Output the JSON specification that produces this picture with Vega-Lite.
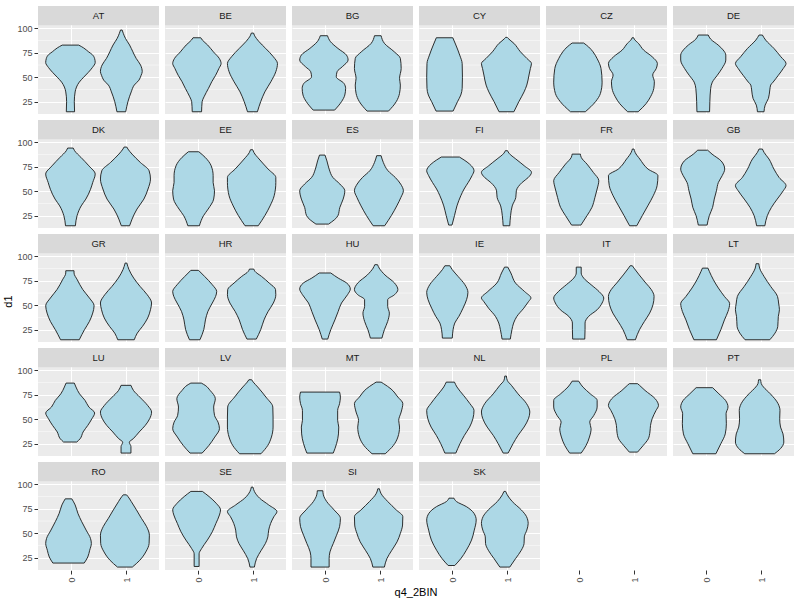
{
"$schema":"https://vega.github.io/schema/vega-lite/v6.json",
"padding":{"left":2,"right":5,"top":5,"bottom":3},
"bounds":"flush",
"title":{"text":"d1","orient":"left","anchor":"middle","fontSize":11,"fontWeight":"normal","color":"#000000","font":"Liberation Sans","offset":3},
"data":{"values":[
{"c":"AT","g":0,"y":14.7,"w":0.15},{"c":"AT","g":0,"y":25,"w":0.14},{"c":"AT","g":0,"y":35,"w":0.17},{"c":"AT","g":0,"y":40,"w":0.22},{"c":"AT","g":0,"y":45,"w":0.32},{"c":"AT","g":0,"y":50,"w":0.48},{"c":"AT","g":0,"y":55,"w":0.65},{"c":"AT","g":0,"y":60,"w":0.8},{"c":"AT","g":0,"y":65,"w":0.9},{"c":"AT","g":0,"y":69,"w":0.88},{"c":"AT","g":0,"y":73,"w":0.8},{"c":"AT","g":0,"y":76,"w":0.66},{"c":"AT","g":0,"y":80,"w":0.48},{"c":"AT","g":0,"y":82.9,"w":0.3},
{"c":"AT","g":1,"y":14.7,"w":0.16},{"c":"AT","g":1,"y":25,"w":0.24},{"c":"AT","g":1,"y":35,"w":0.36},{"c":"AT","g":1,"y":42,"w":0.47},{"c":"AT","g":1,"y":47,"w":0.64},{"c":"AT","g":1,"y":52,"w":0.72},{"c":"AT","g":1,"y":55.7,"w":0.76},{"c":"AT","g":1,"y":62.5,"w":0.7},{"c":"AT","g":1,"y":69.3,"w":0.54},{"c":"AT","g":1,"y":76,"w":0.42},{"c":"AT","g":1,"y":83,"w":0.3},{"c":"AT","g":1,"y":89.8,"w":0.15},{"c":"AT","g":1,"y":95,"w":0.07},{"c":"AT","g":1,"y":98.3,"w":0.03},
{"c":"BE","g":0,"y":14.7,"w":0.17},{"c":"BE","g":0,"y":25,"w":0.19},{"c":"BE","g":0,"y":30,"w":0.26},{"c":"BE","g":0,"y":38.6,"w":0.42},{"c":"BE","g":0,"y":45.4,"w":0.54},{"c":"BE","g":0,"y":52,"w":0.68},{"c":"BE","g":0,"y":59,"w":0.8},{"c":"BE","g":0,"y":64,"w":0.88},{"c":"BE","g":0,"y":69,"w":0.82},{"c":"BE","g":0,"y":76,"w":0.6},{"c":"BE","g":0,"y":83,"w":0.39},{"c":"BE","g":0,"y":88,"w":0.2},{"c":"BE","g":0,"y":90.4,"w":0.14},
{"c":"BE","g":1,"y":14.7,"w":0.18},{"c":"BE","g":1,"y":25,"w":0.3},{"c":"BE","g":1,"y":35,"w":0.45},{"c":"BE","g":1,"y":45.4,"w":0.67},{"c":"BE","g":1,"y":55.7,"w":0.85},{"c":"BE","g":1,"y":64,"w":0.91},{"c":"BE","g":1,"y":71,"w":0.76},{"c":"BE","g":1,"y":79.5,"w":0.48},{"c":"BE","g":1,"y":86.4,"w":0.24},{"c":"BE","g":1,"y":93,"w":0.07},{"c":"BE","g":1,"y":95.2,"w":0.04},
{"c":"BG","g":0,"y":16.4,"w":0.39},{"c":"BG","g":0,"y":25,"w":0.64},{"c":"BG","g":0,"y":31.8,"w":0.76},{"c":"BG","g":0,"y":38.6,"w":0.79},{"c":"BG","g":0,"y":43.7,"w":0.73},{"c":"BG","g":0,"y":50.5,"w":0.45},{"c":"BG","g":0,"y":55.7,"w":0.48},{"c":"BG","g":0,"y":60.8,"w":0.67},{"c":"BG","g":0,"y":67.6,"w":0.88},{"c":"BG","g":0,"y":72.7,"w":0.82},{"c":"BG","g":0,"y":79.5,"w":0.51},{"c":"BG","g":0,"y":86.4,"w":0.24},{"c":"BG","g":0,"y":92.5,"w":0.13},
{"c":"BG","g":1,"y":15.4,"w":0.39},{"c":"BG","g":1,"y":25,"w":0.67},{"c":"BG","g":1,"y":33.5,"w":0.79},{"c":"BG","g":1,"y":42,"w":0.82},{"c":"BG","g":1,"y":48.8,"w":0.79},{"c":"BG","g":1,"y":59,"w":0.85},{"c":"BG","g":1,"y":69.3,"w":0.82},{"c":"BG","g":1,"y":76,"w":0.6},{"c":"BG","g":1,"y":84.7,"w":0.24},{"c":"BG","g":1,"y":92.5,"w":0.12},
{"c":"CY","g":0,"y":15.4,"w":0.31},{"c":"CY","g":0,"y":25,"w":0.47},{"c":"CY","g":0,"y":31.8,"w":0.59},{"c":"CY","g":0,"y":38.6,"w":0.64},{"c":"CY","g":0,"y":50,"w":0.65},{"c":"CY","g":0,"y":64,"w":0.64},{"c":"CY","g":0,"y":72.7,"w":0.55},{"c":"CY","g":0,"y":83,"w":0.41},{"c":"CY","g":0,"y":90.4,"w":0.3},
{"c":"CY","g":1,"y":14.7,"w":0.27},{"c":"CY","g":1,"y":25,"w":0.45},{"c":"CY","g":1,"y":35,"w":0.64},{"c":"CY","g":1,"y":42,"w":0.74},{"c":"CY","g":1,"y":52.3,"w":0.82},{"c":"CY","g":1,"y":59,"w":0.87},{"c":"CY","g":1,"y":64,"w":0.91},{"c":"CY","g":1,"y":69.3,"w":0.74},{"c":"CY","g":1,"y":76,"w":0.51},{"c":"CY","g":1,"y":84.7,"w":0.27},{"c":"CY","g":1,"y":89.8,"w":0.06},{"c":"CY","g":1,"y":90.8,"w":0.03},
{"c":"CZ","g":0,"y":14.7,"w":0.27},{"c":"CZ","g":0,"y":25,"w":0.64},{"c":"CZ","g":0,"y":33.5,"w":0.82},{"c":"CZ","g":0,"y":45,"w":0.88},{"c":"CZ","g":0,"y":59,"w":0.84},{"c":"CZ","g":0,"y":69,"w":0.7},{"c":"CZ","g":0,"y":76,"w":0.55},{"c":"CZ","g":0,"y":81,"w":0.39},{"c":"CZ","g":0,"y":85,"w":0.21},
{"c":"CZ","g":1,"y":14.7,"w":0.19},{"c":"CZ","g":1,"y":23,"w":0.48},{"c":"CZ","g":1,"y":30,"w":0.64},{"c":"CZ","g":1,"y":38.6,"w":0.76},{"c":"CZ","g":1,"y":45.4,"w":0.78},{"c":"CZ","g":1,"y":52.3,"w":0.72},{"c":"CZ","g":1,"y":59,"w":0.85},{"c":"CZ","g":1,"y":64,"w":0.89},{"c":"CZ","g":1,"y":71,"w":0.7},{"c":"CZ","g":1,"y":77.8,"w":0.39},{"c":"CZ","g":1,"y":84.7,"w":0.2},{"c":"CZ","g":1,"y":89,"w":0.05},{"c":"CZ","g":1,"y":90.4,"w":0.03},
{"c":"DE","g":0,"y":14.7,"w":0.23},{"c":"DE","g":0,"y":25,"w":0.24},{"c":"DE","g":0,"y":38.6,"w":0.27},{"c":"DE","g":0,"y":45,"w":0.33},{"c":"DE","g":0,"y":52,"w":0.51},{"c":"DE","g":0,"y":59,"w":0.68},{"c":"DE","g":0,"y":67.6,"w":0.82},{"c":"DE","g":0,"y":72.7,"w":0.82},{"c":"DE","g":0,"y":78,"w":0.72},{"c":"DE","g":0,"y":83,"w":0.54},{"c":"DE","g":0,"y":89,"w":0.27},{"c":"DE","g":0,"y":93.2,"w":0.18},
{"c":"DE","g":1,"y":14.7,"w":0.12},{"c":"DE","g":1,"y":21.5,"w":0.16},{"c":"DE","g":1,"y":28.4,"w":0.28},{"c":"DE","g":1,"y":37,"w":0.33},{"c":"DE","g":1,"y":42,"w":0.36},{"c":"DE","g":1,"y":45,"w":0.45},{"c":"DE","g":1,"y":52,"w":0.64},{"c":"DE","g":1,"y":59,"w":0.82},{"c":"DE","g":1,"y":64,"w":0.92},{"c":"DE","g":1,"y":71,"w":0.73},{"c":"DE","g":1,"y":79.5,"w":0.48},{"c":"DE","g":1,"y":88,"w":0.18},{"c":"DE","g":1,"y":93.2,"w":0.06},
{"c":"DK","g":0,"y":14.7,"w":0.18},{"c":"DK","g":0,"y":25,"w":0.24},{"c":"DK","g":0,"y":35,"w":0.39},{"c":"DK","g":0,"y":42,"w":0.56},{"c":"DK","g":0,"y":52,"w":0.73},{"c":"DK","g":0,"y":59,"w":0.81},{"c":"DK","g":0,"y":67.6,"w":0.9},{"c":"DK","g":0,"y":76,"w":0.67},{"c":"DK","g":0,"y":84.7,"w":0.38},{"c":"DK","g":0,"y":91.5,"w":0.15},{"c":"DK","g":0,"y":94.2,"w":0.1},
{"c":"DK","g":1,"y":14.7,"w":0.15},{"c":"DK","g":1,"y":21.5,"w":0.24},{"c":"DK","g":1,"y":31.8,"w":0.42},{"c":"DK","g":1,"y":42,"w":0.67},{"c":"DK","g":1,"y":52.3,"w":0.82},{"c":"DK","g":1,"y":62.5,"w":0.91},{"c":"DK","g":1,"y":71,"w":0.86},{"c":"DK","g":1,"y":79.5,"w":0.54},{"c":"DK","g":1,"y":88,"w":0.24},{"c":"DK","g":1,"y":93.2,"w":0.09},{"c":"DK","g":1,"y":95.2,"w":0.05},
{"c":"EE","g":0,"y":14.7,"w":0.21},{"c":"EE","g":0,"y":25,"w":0.36},{"c":"EE","g":0,"y":31.8,"w":0.53},{"c":"EE","g":0,"y":42,"w":0.73},{"c":"EE","g":0,"y":50.5,"w":0.76},{"c":"EE","g":0,"y":59,"w":0.71},{"c":"EE","g":0,"y":66,"w":0.71},{"c":"EE","g":0,"y":76,"w":0.64},{"c":"EE","g":0,"y":84.7,"w":0.42},{"c":"EE","g":0,"y":90.4,"w":0.19},
{"c":"EE","g":1,"y":14.7,"w":0.24},{"c":"EE","g":1,"y":25,"w":0.48},{"c":"EE","g":1,"y":35,"w":0.67},{"c":"EE","g":1,"y":45.4,"w":0.82},{"c":"EE","g":1,"y":59,"w":0.88},{"c":"EE","g":1,"y":64,"w":0.88},{"c":"EE","g":1,"y":72.7,"w":0.6},{"c":"EE","g":1,"y":83,"w":0.27},{"c":"EE","g":1,"y":89.8,"w":0.08},{"c":"EE","g":1,"y":92.5,"w":0.04},
{"c":"ES","g":0,"y":16.4,"w":0.23},{"c":"ES","g":0,"y":25,"w":0.57},{"c":"ES","g":0,"y":33.5,"w":0.64},{"c":"ES","g":0,"y":42,"w":0.76},{"c":"ES","g":0,"y":50.5,"w":0.82},{"c":"ES","g":0,"y":57.4,"w":0.64},{"c":"ES","g":0,"y":64,"w":0.39},{"c":"ES","g":0,"y":72.7,"w":0.25},{"c":"ES","g":0,"y":81,"w":0.17},{"c":"ES","g":0,"y":87,"w":0.1},
{"c":"ES","g":1,"y":14.7,"w":0.21},{"c":"ES","g":1,"y":25,"w":0.45},{"c":"ES","g":1,"y":35,"w":0.65},{"c":"ES","g":1,"y":43.7,"w":0.8},{"c":"ES","g":1,"y":50.5,"w":0.89},{"c":"ES","g":1,"y":57.4,"w":0.79},{"c":"ES","g":1,"y":64,"w":0.6},{"c":"ES","g":1,"y":71,"w":0.33},{"c":"ES","g":1,"y":79.5,"w":0.16},{"c":"ES","g":1,"y":86.4,"w":0.08},
{"c":"FI","g":0,"y":15.4,"w":0.06},{"c":"FI","g":0,"y":25,"w":0.15},{"c":"FI","g":0,"y":35,"w":0.24},{"c":"FI","g":0,"y":45.4,"w":0.38},{"c":"FI","g":0,"y":52.3,"w":0.5},{"c":"FI","g":0,"y":59,"w":0.65},{"c":"FI","g":0,"y":66,"w":0.79},{"c":"FI","g":0,"y":71,"w":0.86},{"c":"FI","g":0,"y":77.8,"w":0.7},{"c":"FI","g":0,"y":82,"w":0.5},{"c":"FI","g":0,"y":85,"w":0.33},
{"c":"FI","g":1,"y":14.7,"w":0.12},{"c":"FI","g":1,"y":25,"w":0.15},{"c":"FI","g":1,"y":35,"w":0.21},{"c":"FI","g":1,"y":43.7,"w":0.34},{"c":"FI","g":1,"y":50.5,"w":0.36},{"c":"FI","g":1,"y":59,"w":0.57},{"c":"FI","g":1,"y":64,"w":0.79},{"c":"FI","g":1,"y":69.3,"w":0.91},{"c":"FI","g":1,"y":76,"w":0.65},{"c":"FI","g":1,"y":83,"w":0.34},{"c":"FI","g":1,"y":89,"w":0.09},{"c":"FI","g":1,"y":91.5,"w":0.04},
{"c":"FR","g":0,"y":15.4,"w":0.17},{"c":"FR","g":0,"y":25,"w":0.39},{"c":"FR","g":0,"y":33.5,"w":0.57},{"c":"FR","g":0,"y":43.7,"w":0.68},{"c":"FR","g":0,"y":52.3,"w":0.76},{"c":"FR","g":0,"y":60.8,"w":0.82},{"c":"FR","g":0,"y":69.3,"w":0.62},{"c":"FR","g":0,"y":77.8,"w":0.39},{"c":"FR","g":0,"y":84.7,"w":0.18},{"c":"FR","g":0,"y":88,"w":0.15},
{"c":"FR","g":1,"y":14.7,"w":0.13},{"c":"FR","g":1,"y":25,"w":0.33},{"c":"FR","g":1,"y":35,"w":0.53},{"c":"FR","g":1,"y":45.4,"w":0.73},{"c":"FR","g":1,"y":55.7,"w":0.87},{"c":"FR","g":1,"y":66,"w":0.9},{"c":"FR","g":1,"y":72.7,"w":0.54},{"c":"FR","g":1,"y":83,"w":0.24},{"c":"FR","g":1,"y":89.8,"w":0.07},{"c":"FR","g":1,"y":93.2,"w":0.03},
{"c":"GB","g":0,"y":15.4,"w":0.16},{"c":"GB","g":0,"y":25,"w":0.24},{"c":"GB","g":0,"y":33.5,"w":0.36},{"c":"GB","g":0,"y":42,"w":0.42},{"c":"GB","g":0,"y":50.5,"w":0.5},{"c":"GB","g":0,"y":59,"w":0.57},{"c":"GB","g":0,"y":66,"w":0.71},{"c":"GB","g":0,"y":72.7,"w":0.8},{"c":"GB","g":0,"y":81,"w":0.67},{"c":"GB","g":0,"y":88,"w":0.34},{"c":"GB","g":0,"y":92,"w":0.18},
{"c":"GB","g":1,"y":14.7,"w":0.15},{"c":"GB","g":1,"y":25,"w":0.24},{"c":"GB","g":1,"y":33.5,"w":0.39},{"c":"GB","g":1,"y":42,"w":0.6},{"c":"GB","g":1,"y":50.5,"w":0.82},{"c":"GB","g":1,"y":55.7,"w":0.92},{"c":"GB","g":1,"y":64,"w":0.67},{"c":"GB","g":1,"y":72.7,"w":0.48},{"c":"GB","g":1,"y":83,"w":0.3},{"c":"GB","g":1,"y":89.8,"w":0.12},{"c":"GB","g":1,"y":93.2,"w":0.06},
{"c":"GR","g":0,"y":14.7,"w":0.34},{"c":"GR","g":0,"y":25,"w":0.53},{"c":"GR","g":0,"y":33.5,"w":0.71},{"c":"GR","g":0,"y":42,"w":0.83},{"c":"GR","g":0,"y":49.5,"w":0.88},{"c":"GR","g":0,"y":57.4,"w":0.71},{"c":"GR","g":0,"y":66,"w":0.47},{"c":"GR","g":0,"y":76,"w":0.27},{"c":"GR","g":0,"y":83,"w":0.15},{"c":"GR","g":0,"y":85.3,"w":0.15},
{"c":"GR","g":1,"y":14.7,"w":0.3},{"c":"GR","g":1,"y":21.5,"w":0.41},{"c":"GR","g":1,"y":28.4,"w":0.6},{"c":"GR","g":1,"y":37,"w":0.79},{"c":"GR","g":1,"y":45.4,"w":0.89},{"c":"GR","g":1,"y":52.3,"w":0.93},{"c":"GR","g":1,"y":60.8,"w":0.77},{"c":"GR","g":1,"y":69.3,"w":0.51},{"c":"GR","g":1,"y":77.8,"w":0.28},{"c":"GR","g":1,"y":86.4,"w":0.11},{"c":"GR","g":1,"y":93.2,"w":0.03},
{"c":"HR","g":0,"y":14.7,"w":0.19},{"c":"HR","g":0,"y":25,"w":0.33},{"c":"HR","g":0,"y":35,"w":0.39},{"c":"HR","g":0,"y":43.7,"w":0.48},{"c":"HR","g":0,"y":52.3,"w":0.64},{"c":"HR","g":0,"y":59,"w":0.76},{"c":"HR","g":0,"y":64,"w":0.8},{"c":"HR","g":0,"y":71,"w":0.64},{"c":"HR","g":0,"y":79.5,"w":0.36},{"c":"HR","g":0,"y":85.7,"w":0.14},
{"c":"HR","g":1,"y":15.4,"w":0.17},{"c":"HR","g":1,"y":25,"w":0.33},{"c":"HR","g":1,"y":35,"w":0.45},{"c":"HR","g":1,"y":43.7,"w":0.6},{"c":"HR","g":1,"y":52.3,"w":0.79},{"c":"HR","g":1,"y":60.8,"w":0.88},{"c":"HR","g":1,"y":66,"w":0.87},{"c":"HR","g":1,"y":72.7,"w":0.64},{"c":"HR","g":1,"y":79.5,"w":0.36},{"c":"HR","g":1,"y":84.7,"w":0.12},{"c":"HR","g":1,"y":87,"w":0.08},
{"c":"HU","g":0,"y":15.4,"w":0.1},{"c":"HU","g":0,"y":25,"w":0.21},{"c":"HU","g":0,"y":35,"w":0.36},{"c":"HU","g":0,"y":43.7,"w":0.48},{"c":"HU","g":0,"y":52.3,"w":0.6},{"c":"HU","g":0,"y":60.8,"w":0.82},{"c":"HU","g":0,"y":66.6,"w":0.92},{"c":"HU","g":0,"y":72.7,"w":0.79},{"c":"HU","g":0,"y":77.8,"w":0.48},{"c":"HU","g":0,"y":83,"w":0.21},
{"c":"HU","g":1,"y":16.4,"w":0.21},{"c":"HU","g":1,"y":25,"w":0.3},{"c":"HU","g":1,"y":33.5,"w":0.42},{"c":"HU","g":1,"y":42,"w":0.48},{"c":"HU","g":1,"y":48.8,"w":0.42},{"c":"HU","g":1,"y":55.7,"w":0.42},{"c":"HU","g":1,"y":60.8,"w":0.67},{"c":"HU","g":1,"y":66,"w":0.79},{"c":"HU","g":1,"y":72.7,"w":0.67},{"c":"HU","g":1,"y":81,"w":0.32},{"c":"HU","g":1,"y":88,"w":0.11},{"c":"HU","g":1,"y":91.5,"w":0.05},
{"c":"IE","g":0,"y":16.4,"w":0.18},{"c":"IE","g":0,"y":25,"w":0.21},{"c":"IE","g":0,"y":31.8,"w":0.27},{"c":"IE","g":0,"y":38.6,"w":0.42},{"c":"IE","g":0,"y":47,"w":0.57},{"c":"IE","g":0,"y":55.7,"w":0.7},{"c":"IE","g":0,"y":63,"w":0.75},{"c":"IE","g":0,"y":71,"w":0.64},{"c":"IE","g":0,"y":79.5,"w":0.39},{"c":"IE","g":0,"y":86.4,"w":0.18},{"c":"IE","g":0,"y":90.4,"w":0.09},
{"c":"IE","g":1,"y":15.4,"w":0.15},{"c":"IE","g":1,"y":25,"w":0.21},{"c":"IE","g":1,"y":31.8,"w":0.27},{"c":"IE","g":1,"y":38.6,"w":0.39},{"c":"IE","g":1,"y":47,"w":0.64},{"c":"IE","g":1,"y":54,"w":0.82},{"c":"IE","g":1,"y":57.4,"w":0.9},{"c":"IE","g":1,"y":64,"w":0.67},{"c":"IE","g":1,"y":72.7,"w":0.34},{"c":"IE","g":1,"y":83,"w":0.17},{"c":"IE","g":1,"y":89,"w":0.06},
{"c":"IT","g":0,"y":15.4,"w":0.22},{"c":"IT","g":0,"y":25,"w":0.23},{"c":"IT","g":0,"y":31.8,"w":0.23},{"c":"IT","g":0,"y":38.6,"w":0.36},{"c":"IT","g":0,"y":45.4,"w":0.67},{"c":"IT","g":0,"y":52.3,"w":0.85},{"c":"IT","g":0,"y":57.4,"w":0.91},{"c":"IT","g":0,"y":64,"w":0.74},{"c":"IT","g":0,"y":71,"w":0.45},{"c":"IT","g":0,"y":77.8,"w":0.18},{"c":"IT","g":0,"y":83,"w":0.09},{"c":"IT","g":0,"y":89,"w":0.09},
{"c":"IT","g":1,"y":14.7,"w":0.15},{"c":"IT","g":1,"y":25,"w":0.3},{"c":"IT","g":1,"y":33.5,"w":0.48},{"c":"IT","g":1,"y":42,"w":0.67},{"c":"IT","g":1,"y":50.5,"w":0.79},{"c":"IT","g":1,"y":59,"w":0.83},{"c":"IT","g":1,"y":66,"w":0.73},{"c":"IT","g":1,"y":72.7,"w":0.53},{"c":"IT","g":1,"y":81,"w":0.29},{"c":"IT","g":1,"y":88,"w":0.1},{"c":"IT","g":1,"y":90.4,"w":0.04},
{"c":"LT","g":0,"y":14.7,"w":0.41},{"c":"LT","g":0,"y":25,"w":0.57},{"c":"LT","g":0,"y":35,"w":0.7},{"c":"LT","g":0,"y":43.7,"w":0.83},{"c":"LT","g":0,"y":51.6,"w":0.89},{"c":"LT","g":0,"y":59,"w":0.7},{"c":"LT","g":0,"y":67.6,"w":0.48},{"c":"LT","g":0,"y":76,"w":0.3},{"c":"LT","g":0,"y":84.7,"w":0.15},{"c":"LT","g":0,"y":88,"w":0.1},
{"c":"LT","g":1,"y":14.7,"w":0.45},{"c":"LT","g":1,"y":21.5,"w":0.64},{"c":"LT","g":1,"y":28.4,"w":0.74},{"c":"LT","g":1,"y":38.6,"w":0.76},{"c":"LT","g":1,"y":45.4,"w":0.8},{"c":"LT","g":1,"y":52.3,"w":0.77},{"c":"LT","g":1,"y":59,"w":0.73},{"c":"LT","g":1,"y":69.3,"w":0.48},{"c":"LT","g":1,"y":79.5,"w":0.24},{"c":"LT","g":1,"y":88,"w":0.08},{"c":"LT","g":1,"y":92.5,"w":0.05},
{"c":"LU","g":0,"y":26.7,"w":0.24},{"c":"LU","g":0,"y":30,"w":0.36},{"c":"LU","g":0,"y":37,"w":0.47},{"c":"LU","g":0,"y":43.7,"w":0.64},{"c":"LU","g":0,"y":50.5,"w":0.79},{"c":"LU","g":0,"y":56.4,"w":0.89},{"c":"LU","g":0,"y":62.5,"w":0.68},{"c":"LU","g":0,"y":69.3,"w":0.54},{"c":"LU","g":0,"y":76,"w":0.34},{"c":"LU","g":0,"y":83,"w":0.21},{"c":"LU","g":0,"y":87,"w":0.15},
{"c":"LU","g":1,"y":15.4,"w":0.18},{"c":"LU","g":1,"y":22,"w":0.18},{"c":"LU","g":1,"y":26.5,"w":0.12},{"c":"LU","g":1,"y":30,"w":0.26},{"c":"LU","g":1,"y":37,"w":0.48},{"c":"LU","g":1,"y":43.7,"w":0.7},{"c":"LU","g":1,"y":50.5,"w":0.86},{"c":"LU","g":1,"y":57.4,"w":0.93},{"c":"LU","g":1,"y":64,"w":0.79},{"c":"LU","g":1,"y":72.7,"w":0.5},{"c":"LU","g":1,"y":79.5,"w":0.27},{"c":"LU","g":1,"y":84.7,"w":0.18},
{"c":"LV","g":0,"y":15.4,"w":0.22},{"c":"LV","g":0,"y":23.3,"w":0.47},{"c":"LV","g":0,"y":31.8,"w":0.68},{"c":"LV","g":0,"y":40.3,"w":0.85},{"c":"LV","g":0,"y":47,"w":0.8},{"c":"LV","g":0,"y":54,"w":0.67},{"c":"LV","g":0,"y":62.5,"w":0.64},{"c":"LV","g":0,"y":71,"w":0.7},{"c":"LV","g":0,"y":79.5,"w":0.51},{"c":"LV","g":0,"y":84.7,"w":0.33},{"c":"LV","g":0,"y":87,"w":0.19},
{"c":"LV","g":1,"y":14.7,"w":0.39},{"c":"LV","g":1,"y":23.3,"w":0.64},{"c":"LV","g":1,"y":31.8,"w":0.77},{"c":"LV","g":1,"y":42,"w":0.83},{"c":"LV","g":1,"y":52.3,"w":0.83},{"c":"LV","g":1,"y":62.5,"w":0.82},{"c":"LV","g":1,"y":72.7,"w":0.57},{"c":"LV","g":1,"y":83,"w":0.27},{"c":"LV","g":1,"y":88,"w":0.11},{"c":"LV","g":1,"y":90.4,"w":0.05},
{"c":"MT","g":0,"y":15.4,"w":0.48},{"c":"MT","g":0,"y":25,"w":0.6},{"c":"MT","g":0,"y":35,"w":0.67},{"c":"MT","g":0,"y":42,"w":0.68},{"c":"MT","g":0,"y":48.8,"w":0.64},{"c":"MT","g":0,"y":59,"w":0.64},{"c":"MT","g":0,"y":66,"w":0.71},{"c":"MT","g":0,"y":72.7,"w":0.74},{"c":"MT","g":0,"y":77.8,"w":0.71},
{"c":"MT","g":1,"y":14.7,"w":0.24},{"c":"MT","g":1,"y":23.3,"w":0.54},{"c":"MT","g":1,"y":31.8,"w":0.7},{"c":"MT","g":1,"y":42,"w":0.76},{"c":"MT","g":1,"y":48.8,"w":0.73},{"c":"MT","g":1,"y":57.4,"w":0.82},{"c":"MT","g":1,"y":66,"w":0.88},{"c":"MT","g":1,"y":72.7,"w":0.7},{"c":"MT","g":1,"y":81,"w":0.45},{"c":"MT","g":1,"y":86.4,"w":0.18},{"c":"MT","g":1,"y":88,"w":0.09},
{"c":"NL","g":0,"y":15.4,"w":0.2},{"c":"NL","g":0,"y":25,"w":0.35},{"c":"NL","g":0,"y":33.5,"w":0.51},{"c":"NL","g":0,"y":42,"w":0.7},{"c":"NL","g":0,"y":50.5,"w":0.82},{"c":"NL","g":0,"y":59,"w":0.86},{"c":"NL","g":0,"y":66,"w":0.71},{"c":"NL","g":0,"y":74.4,"w":0.48},{"c":"NL","g":0,"y":83,"w":0.24},{"c":"NL","g":0,"y":88,"w":0.15},
{"c":"NL","g":1,"y":15.4,"w":0.09},{"c":"NL","g":1,"y":25,"w":0.27},{"c":"NL","g":1,"y":33.5,"w":0.45},{"c":"NL","g":1,"y":42,"w":0.67},{"c":"NL","g":1,"y":50.5,"w":0.83},{"c":"NL","g":1,"y":57.4,"w":0.88},{"c":"NL","g":1,"y":66,"w":0.76},{"c":"NL","g":1,"y":76,"w":0.45},{"c":"NL","g":1,"y":84.7,"w":0.21},{"c":"NL","g":1,"y":89.8,"w":0.06},{"c":"NL","g":1,"y":94.2,"w":0.03},
{"c":"PL","g":0,"y":15.4,"w":0.21},{"c":"PL","g":0,"y":23.3,"w":0.39},{"c":"PL","g":0,"y":31.8,"w":0.51},{"c":"PL","g":0,"y":40.3,"w":0.57},{"c":"PL","g":0,"y":47,"w":0.52},{"c":"PL","g":0,"y":54,"w":0.67},{"c":"PL","g":0,"y":62.5,"w":0.79},{"c":"PL","g":0,"y":69.3,"w":0.79},{"c":"PL","g":0,"y":76,"w":0.54},{"c":"PL","g":0,"y":83,"w":0.27},{"c":"PL","g":0,"y":89,"w":0.12},
{"c":"PL","g":1,"y":16.4,"w":0.15},{"c":"PL","g":1,"y":23.3,"w":0.36},{"c":"PL","g":1,"y":30,"w":0.54},{"c":"PL","g":1,"y":37,"w":0.6},{"c":"PL","g":1,"y":43.7,"w":0.62},{"c":"PL","g":1,"y":50.5,"w":0.68},{"c":"PL","g":1,"y":59,"w":0.82},{"c":"PL","g":1,"y":64,"w":0.91},{"c":"PL","g":1,"y":71,"w":0.79},{"c":"PL","g":1,"y":79.5,"w":0.42},{"c":"PL","g":1,"y":84.7,"w":0.22},{"c":"PL","g":1,"y":86.4,"w":0.15},
{"c":"PT","g":0,"y":14.7,"w":0.42},{"c":"PT","g":0,"y":25,"w":0.6},{"c":"PT","g":0,"y":35,"w":0.76},{"c":"PT","g":0,"y":45.4,"w":0.8},{"c":"PT","g":0,"y":55.7,"w":0.79},{"c":"PT","g":0,"y":62.5,"w":0.86},{"c":"PT","g":0,"y":69.3,"w":0.77},{"c":"PT","g":0,"y":76,"w":0.53},{"c":"PT","g":0,"y":82.3,"w":0.3},
{"c":"PT","g":1,"y":14.7,"w":0.54},{"c":"PT","g":1,"y":20,"w":0.76},{"c":"PT","g":1,"y":26.7,"w":0.88},{"c":"PT","g":1,"y":35,"w":0.85},{"c":"PT","g":1,"y":42,"w":0.76},{"c":"PT","g":1,"y":50.5,"w":0.73},{"c":"PT","g":1,"y":59,"w":0.74},{"c":"PT","g":1,"y":66,"w":0.67},{"c":"PT","g":1,"y":76,"w":0.39},{"c":"PT","g":1,"y":83,"w":0.14},{"c":"PT","g":1,"y":86.4,"w":0.06},{"c":"PT","g":1,"y":90.4,"w":0.04},
{"c":"RO","g":0,"y":19.5,"w":0.57},{"c":"RO","g":0,"y":25.7,"w":0.7},{"c":"RO","g":0,"y":32.6,"w":0.77},{"c":"RO","g":0,"y":39.5,"w":0.83},{"c":"RO","g":0,"y":44.6,"w":0.8},{"c":"RO","g":0,"y":53.2,"w":0.64},{"c":"RO","g":0,"y":61.8,"w":0.48},{"c":"RO","g":0,"y":70.4,"w":0.34},{"c":"RO","g":0,"y":79,"w":0.24},{"c":"RO","g":0,"y":85.2,"w":0.12},
{"c":"RO","g":1,"y":15.4,"w":0.27},{"c":"RO","g":1,"y":22.3,"w":0.54},{"c":"RO","g":1,"y":30.9,"w":0.76},{"c":"RO","g":1,"y":39.5,"w":0.88},{"c":"RO","g":1,"y":48,"w":0.89},{"c":"RO","g":1,"y":56.7,"w":0.79},{"c":"RO","g":1,"y":65.3,"w":0.6},{"c":"RO","g":1,"y":73.9,"w":0.42},{"c":"RO","g":1,"y":82.5,"w":0.23},{"c":"RO","g":1,"y":87.6,"w":0.11},{"c":"RO","g":1,"y":89.3,"w":0.06},
{"c":"SE","g":0,"y":16,"w":0.09},{"c":"SE","g":0,"y":29,"w":0.09},{"c":"SE","g":0,"y":34.3,"w":0.18},{"c":"SE","g":0,"y":43,"w":0.39},{"c":"SE","g":0,"y":51.5,"w":0.57},{"c":"SE","g":0,"y":60,"w":0.7},{"c":"SE","g":0,"y":68.7,"w":0.83},{"c":"SE","g":0,"y":73.9,"w":0.87},{"c":"SE","g":0,"y":80.7,"w":0.71},{"c":"SE","g":0,"y":87.6,"w":0.45},{"c":"SE","g":0,"y":92.8,"w":0.21},
{"c":"SE","g":1,"y":15.4,"w":0.08},{"c":"SE","g":1,"y":24,"w":0.16},{"c":"SE","g":1,"y":32.6,"w":0.33},{"c":"SE","g":1,"y":39.5,"w":0.48},{"c":"SE","g":1,"y":46.3,"w":0.57},{"c":"SE","g":1,"y":53.2,"w":0.6},{"c":"SE","g":1,"y":60,"w":0.67},{"c":"SE","g":1,"y":67,"w":0.79},{"c":"SE","g":1,"y":72.1,"w":0.9},{"c":"SE","g":1,"y":79,"w":0.6},{"c":"SE","g":1,"y":85.9,"w":0.27},{"c":"SE","g":1,"y":92.8,"w":0.08},{"c":"SE","g":1,"y":97.2,"w":0.03},
{"c":"SI","g":0,"y":15.4,"w":0.33},{"c":"SI","g":0,"y":24,"w":0.33},{"c":"SI","g":0,"y":30.9,"w":0.36},{"c":"SI","g":0,"y":39.5,"w":0.48},{"c":"SI","g":0,"y":48,"w":0.6},{"c":"SI","g":0,"y":56.7,"w":0.71},{"c":"SI","g":0,"y":65.3,"w":0.74},{"c":"SI","g":0,"y":73.9,"w":0.51},{"c":"SI","g":0,"y":82.5,"w":0.24},{"c":"SI","g":0,"y":89.3,"w":0.12},{"c":"SI","g":0,"y":93.5,"w":0.1},
{"c":"SI","g":1,"y":15.4,"w":0.21},{"c":"SI","g":1,"y":24,"w":0.3},{"c":"SI","g":1,"y":32.6,"w":0.48},{"c":"SI","g":1,"y":41.2,"w":0.67},{"c":"SI","g":1,"y":49.8,"w":0.79},{"c":"SI","g":1,"y":58.4,"w":0.87},{"c":"SI","g":1,"y":67,"w":0.88},{"c":"SI","g":1,"y":73.9,"w":0.64},{"c":"SI","g":1,"y":82.5,"w":0.33},{"c":"SI","g":1,"y":91,"w":0.08},{"c":"SI","g":1,"y":95.5,"w":0.03},
{"c":"SK","g":0,"y":17,"w":0.12},{"c":"SK","g":0,"y":24,"w":0.34},{"c":"SK","g":0,"y":32.6,"w":0.54},{"c":"SK","g":0,"y":43,"w":0.73},{"c":"SK","g":0,"y":53.2,"w":0.83},{"c":"SK","g":0,"y":63.5,"w":0.9},{"c":"SK","g":0,"y":70.4,"w":0.82},{"c":"SK","g":0,"y":77.3,"w":0.54},{"c":"SK","g":0,"y":82.5,"w":0.18},{"c":"SK","g":0,"y":85.9,"w":0.09},
{"c":"SK","g":1,"y":15.4,"w":0.18},{"c":"SK","g":1,"y":24,"w":0.39},{"c":"SK","g":1,"y":32.6,"w":0.6},{"c":"SK","g":1,"y":39.5,"w":0.7},{"c":"SK","g":1,"y":46.3,"w":0.71},{"c":"SK","g":1,"y":53.2,"w":0.8},{"c":"SK","g":1,"y":60,"w":0.85},{"c":"SK","g":1,"y":67,"w":0.79},{"c":"SK","g":1,"y":73.9,"w":0.6},{"c":"SK","g":1,"y":82.5,"w":0.27},{"c":"SK","g":1,"y":89.3,"w":0.09},{"c":"SK","g":1,"y":92.8,"w":0.03}
]},
"facet":{"field":"c","type":"nominal","header":{"labels":false,"labelExpr":"''","labelFontSize":1,"labelPadding":0,"title":"q4_2BIN","titleOrient":"bottom","titleFontSize":11,"titleFontWeight":"normal","titleColor":"#000000","titleFont":"Liberation Sans","titlePadding":4}},
"columns":6,
"spacing":{"row":6,"column":6},
"spec":{
  "width":121,
  "height":108,
  "layer":[
    {"transform":[{"aggregate":[{"op":"count","as":"n"}],"groupby":["c"]}],
     "layer":[
       {"mark":{"type":"rule","color":"#FFFFFF","strokeWidth":0.5},
        "encoding":{"y":{"datum":37.5,"type":"quantitative","title":null,"scale":{"domain":[12.4,122.9],"nice":false,"zero":false},"axis":{"values":[25,50,75,100],"labelOverlap":false,"labelFlush":false,"title":null}}}},
       {"mark":{"type":"rule","color":"#FFFFFF","strokeWidth":0.5},
        "encoding":{"y":{"datum":62.5,"type":"quantitative","title":null,"scale":{"domain":[12.4,122.9],"nice":false,"zero":false},"axis":{"values":[25,50,75,100],"labelOverlap":false,"labelFlush":false,"title":null}}}},
       {"mark":{"type":"rule","color":"#FFFFFF","strokeWidth":0.5},
        "encoding":{"y":{"datum":87.5,"type":"quantitative","title":null,"scale":{"domain":[12.4,122.9],"nice":false,"zero":false},"axis":{"values":[25,50,75,100],"labelOverlap":false,"labelFlush":false,"title":null}}}},
       {"mark":{"type":"rect","fill":"#D9D9D9"},
        "encoding":{
          "y":{"datum":103.3,"type":"quantitative","title":null,"scale":{"domain":[12.4,122.9],"nice":false,"zero":false},"axis":{"values":[25,50,75,100],"labelOverlap":false,"labelFlush":false,"title":null}},
          "y2":{"datum":122.9}
        }},
       {"mark":{"type":"text","fontSize":9.5,"color":"#1A1A1A","baseline":"middle","align":"center","font":"Liberation Sans"},
        "encoding":{
          "text":{"field":"c","type":"nominal"},
          "y":{"datum":113.1,"type":"quantitative","title":null,"scale":{"domain":[12.4,122.9],"nice":false,"zero":false},"axis":{"values":[25,50,75,100],"labelOverlap":false,"labelFlush":false,"title":null}},
          "x":{"datum":0.5,"type":"quantitative","title":null,"scale":{"domain":[-0.6,1.6],"nice":false,"zero":false},
               "axis":{"values":[0,1],"grid":true,"gridColor":"#FFFFFF","gridWidth":1.1,"labelAngle":-90,"title":null,"labelPadding":3,"format":"d"}}
        }}
     ]},
    {"layer":[
      {"transform":[{"filter":"datum.g == 0"}],
       "mark":{"type":"area","orient":"horizontal","interpolate":"monotone","fill":"#ADD8E6","stroke":"#1A1A1A","strokeWidth":0.9},
       "encoding":{
         "y":{"field":"y","type":"quantitative","title":null,"scale":{"domain":[12.4,122.9],"nice":false,"zero":false},
              "axis":{"values":[25,50,75,100],"labelOverlap":false,"labelFlush":false,"title":null}},
         "x":{"field":"w","type":"quantitative","stack":"center","impute":null,"title":null,"scale":{"domain":[-0.14,2.06],"nice":false,"zero":false},"axis":null}
       }},
      {"transform":[{"filter":"datum.g == 1"}],
       "mark":{"type":"area","orient":"horizontal","interpolate":"monotone","fill":"#ADD8E6","stroke":"#1A1A1A","strokeWidth":0.9},
       "encoding":{
         "y":{"field":"y","type":"quantitative","title":null,"scale":{"domain":[12.4,122.9],"nice":false,"zero":false},
              "axis":{"values":[25,50,75,100],"labelOverlap":false,"labelFlush":false,"title":null}},
         "x":{"field":"w","type":"quantitative","stack":"center","impute":null,"title":null,"scale":{"domain":[-1.135,1.065],"nice":false,"zero":false},"axis":null}
       }}
     ],
     "resolve":{"scale":{"x":"independent"}}
    }
  ]
},
"config":{
  "font":"Liberation Sans",
  "view":{"fill":"#EBEBEB","stroke":null},
  "axis":{"domain":false,"grid":true,"gridColor":"#FFFFFF","gridWidth":1.1,"tickColor":"#333333","tickSize":4,"labelColor":"#4D4D4D","labelFontSize":9,"labelFont":"Liberation Sans","labelPadding":2}
}
}
